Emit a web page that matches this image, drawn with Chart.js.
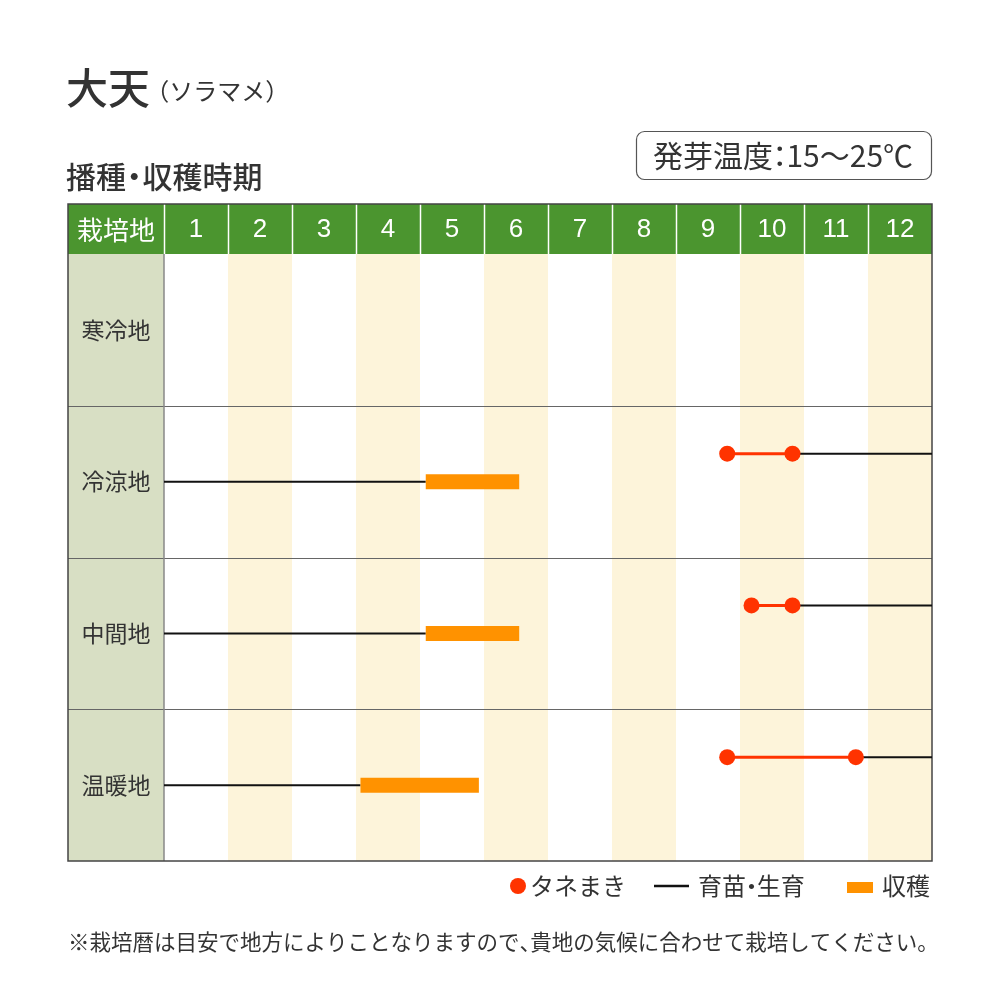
<!DOCTYPE html>
<html><head><meta charset="utf-8">
<script src="https://cdn.jsdelivr.net/npm/chart.js@4"></script>
<style>html,body{margin:0;padding:0;background:#fff}canvas{display:block}</style>
</head><body>
<canvas id="c" width="1000" height="1000"></canvas>
<script>
const titleMain = '大天';
const titleSub = '（ソラマメ）';
const subTitle = '播種・収穫時期';
const germText = '発芽温度：15～25℃';
const headerLabel = '栽培地';
const months = ['1','2','3','4','5','6','7','8','9','10','11','12'];
const regions = ['寒冷地','冷涼地','中間地','温暖地'];
// values in months (0 = start of Jan, 12 = end of Dec)
const sowStart     = [null, 8.8,  9.18, 8.8];
const sowEnd       = [null, 9.82, 9.82, 10.81];
const harvestStart = [null, 4.09, 4.09, 3.07];
const harvestEnd   = [null, 5.55, 5.55, 4.92];
const growthEarlyStart = [null, 0, 0, 0];
const growthLateEnd    = [null, 12, 12, 12];
const legendLabels = ['タネまき','育苗・生育','収穫'];
const footnote = '※栽培暦は目安で地方によりことなりますので、貴地の気候に合わせて栽培してください。';

const FONT = '"Noto Sans CJK JP","Noto Sans",sans-serif';
const GREEN = '#4b952f', LEFTBG = '#d8dfc4', YELLOW = '#fdf4da';
const RED = '#ff3300', ORANGE = '#ff9200', TEXT = '#333333';
const SOW_OFF = 0.316, HARV_OFF = 0.5;

function drawProp(ctx, str, x, y, narrowFactor) {
  const nf = narrowFactor || 0.5;
  const narrow = {'・':'c', '：':'c', '、':'l', '。':'l', '（':'r', '）':'l'};
  ctx.save(); ctx.textAlign = 'left';
  let cx = x;
  for (const ch of str) {
    const w = ctx.measureText(ch).width;
    if (narrow[ch]) {
      const nw = w * nf;
      let off = 0;
      if (narrow[ch] === 'c') off = -(w - nw) / 2;
      else if (narrow[ch] === 'r') off = -(w - nw);
      ctx.fillText(ch, cx + off, y);
      cx += nw;
    } else {
      ctx.fillText(ch, cx, y);
      cx += w;
    }
  }
  ctx.restore();
  return cx;
}
function propWidth(ctx, str, nf) {
  const narrow = '・：、。（）';
  let t = 0;
  for (const ch of str) { const w = ctx.measureText(ch).width; t += narrow.includes(ch) ? w * (nf || 0.5) : w; }
  return t;
}

const datasets = [];
regions.forEach((r, i) => {
  if (sowStart[i] === null) return;
  datasets.push({type:'line', data:[{x:growthEarlyStart[i], y:i+HARV_OFF},{x:harvestStart[i], y:i+HARV_OFF}],
    borderColor:'#111', borderWidth:2, pointRadius:0, order:3});
  datasets.push({type:'line', data:[{x:sowEnd[i], y:i+SOW_OFF},{x:growthLateEnd[i], y:i+SOW_OFF}],
    borderColor:'#111', borderWidth:2, pointRadius:0, order:3});
  datasets.push({type:'line', data:[{x:harvestStart[i], y:i+HARV_OFF},{x:harvestEnd[i], y:i+HARV_OFF}],
    borderColor:ORANGE, borderWidth:15, borderCapStyle:'butt', pointRadius:0, order:2});
  datasets.push({type:'line', data:[{x:sowStart[i], y:i+SOW_OFF},{x:sowEnd[i], y:i+SOW_OFF}],
    borderColor:RED, borderWidth:3, pointRadius:8, pointBackgroundColor:RED, pointBorderWidth:0, pointHoverRadius:8, order:1});
});

const frame = {
  id:'frame',
  beforeDatasetsDraw(chart){
    const {ctx, chartArea:a, scales:{x, y}} = chart;
    ctx.save();
    months.forEach((m, k) => {
      const x0 = x.getPixelForValue(k), x1 = x.getPixelForValue(k+1);
      if (k % 2 === 1) { ctx.fillStyle = YELLOW; ctx.fillRect(x0, a.top, x1-x0, a.bottom-a.top); }
    });
    const L = 68;
    ctx.fillStyle = LEFTBG; ctx.fillRect(L, a.top, a.left-L, a.bottom-a.top);
    const hTop = 204;
    ctx.fillStyle = GREEN; ctx.fillRect(L, hTop, a.right-L, a.top-hTop);
    ctx.strokeStyle = '#fff'; ctx.lineWidth = 1.5;
    for (let k = 0; k < months.length; k++) {
      const xp = Math.round(x.getPixelForValue(k)) + 0.5;
      ctx.beginPath(); ctx.moveTo(xp, hTop); ctx.lineTo(xp, a.top); ctx.stroke();
    }
    ctx.fillStyle = '#fff'; ctx.textAlign = 'center'; ctx.textBaseline = 'middle';
    ctx.font = '26px ' + FONT;
    ctx.fillText(headerLabel, (L + a.left)/2, (hTop + a.top)/2 + 1);
    ctx.font = '26px "Liberation Sans",Arial,sans-serif';
    months.forEach((m, k) => ctx.fillText(m, x.getPixelForValue(k+0.5), (hTop + a.top)/2 + 1));
    ctx.fillStyle = TEXT; ctx.font = '23px ' + FONT;
    regions.forEach((r, i) => ctx.fillText(r, (L + a.left)/2, y.getPixelForValue(i+0.5)));
    ctx.strokeStyle = '#666'; ctx.lineWidth = 1;
    for (let i = 1; i < regions.length; i++) {
      const yp = Math.round(y.getPixelForValue(i)) + 0.5;
      ctx.beginPath(); ctx.moveTo(L, yp); ctx.lineTo(a.right, yp); ctx.stroke();
    }
    ctx.strokeStyle = '#888'; ctx.lineWidth = 1.5;
    ctx.beginPath(); ctx.moveTo(a.left, a.top); ctx.lineTo(a.left, a.bottom); ctx.stroke();
    ctx.strokeStyle = '#444'; ctx.lineWidth = 1.5;
    ctx.strokeRect(L, hTop, a.right-L, a.bottom-hTop);
    ctx.restore();
  },
  afterDraw(chart){
    const {ctx} = chart;
    ctx.save();
    ctx.fillStyle = TEXT; ctx.textBaseline = 'alphabetic'; ctx.textAlign = 'left';
    ctx.font = '500 42px ' + FONT;
    ctx.fillText(titleMain, 66, 104);
    const w = ctx.measureText(titleMain).width;
    ctx.font = '24px ' + FONT;
    drawProp(ctx, titleSub, 66 + w + 6, 100, 0.55);
    ctx.font = '500 30px ' + FONT;
    ctx.textBaseline = 'middle';
    drawProp(ctx, subTitle, 66, 177, 0.55);
    // germination box
    ctx.strokeStyle = '#555'; ctx.lineWidth = 1.2;
    ctx.beginPath(); ctx.roundRect(636.5, 131.5, 295, 48, 8); ctx.stroke();
    ctx.font = '30px ' + FONT;
    const gw = propWidth(ctx, germText, 0.45);
    drawProp(ctx, germText, 783 - gw/2, 156, 0.45);
    // legend
    const ly = 886;
    ctx.font = '24px ' + FONT;
    ctx.fillStyle = RED; ctx.beginPath(); ctx.arc(518, ly, 8, 0, Math.PI*2); ctx.fill();
    ctx.fillStyle = TEXT; drawProp(ctx, legendLabels[0], 530, ly);
    ctx.strokeStyle = '#111'; ctx.lineWidth = 2.5;
    ctx.beginPath(); ctx.moveTo(654, ly); ctx.lineTo(689, ly); ctx.stroke();
    drawProp(ctx, legendLabels[1], 698, ly, 0.45);
    ctx.fillStyle = ORANGE; ctx.fillRect(847, 882, 26, 11);
    ctx.fillStyle = TEXT; drawProp(ctx, legendLabels[2], 882, ly);
    // footnote
    ctx.font = '21.5px ' + FONT;
    drawProp(ctx, footnote, 68, 942, 0.5);
    ctx.restore();
  }
};

new Chart(document.getElementById('c'), {
  type:'line',
  data:{datasets},
  options:{
    responsive:false, animation:false, devicePixelRatio:1,
    layout:{padding:{left:164, right:68, top:254, bottom:139}},
    plugins:{legend:{display:false}, tooltip:{enabled:false}},
    events:[],
    scales:{
      x:{type:'linear', min:0, max:12, display:false},
      y:{type:'linear', min:0, max:4, reverse:true, display:false}
    },
    elements:{line:{tension:0}},
    clip:false
  },
  plugins:[frame]
});
</script>
</body></html>
